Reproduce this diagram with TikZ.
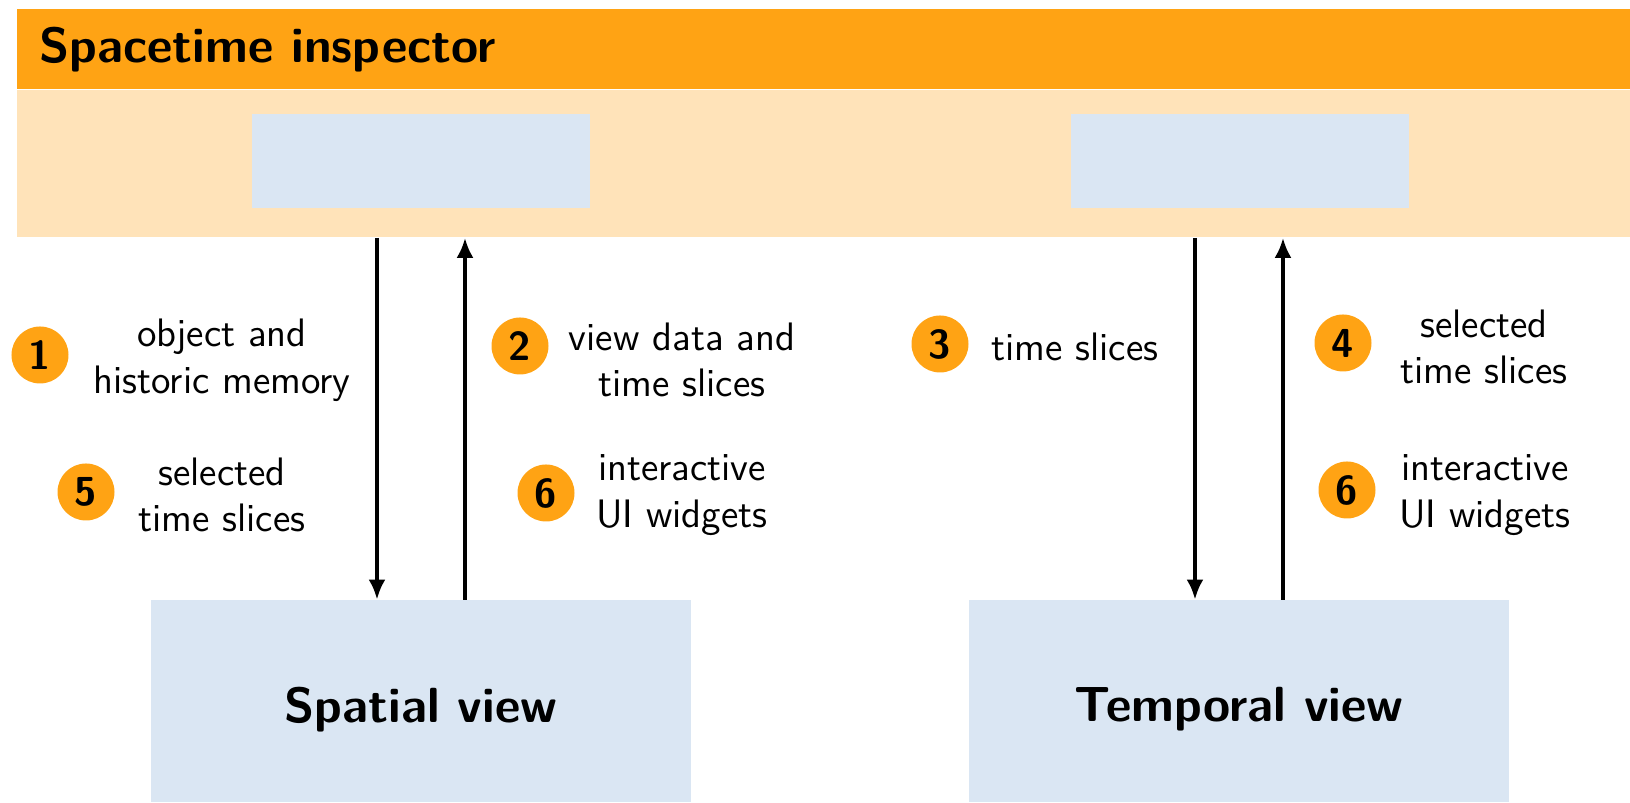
\documentclass[tikz,border=0pt]{standalone}
\usepackage{fontspec}
\usepackage{tikz}
\usetikzlibrary{arrows.meta}
\definecolor{inspOrange}{RGB}{255,163,20}
\definecolor{inspLight}{RGB}{255,227,185}
\definecolor{viewBlue}{RGB}{218,230,243}
\newcommand{\txtfont}{\sffamily\fontsize{11.3}{13.3}\selectfont}
\newcommand{\bigfont}{\sffamily\bfseries\fontsize{14.05}{16}\selectfont}

\begin{document}
\begin{tikzpicture}[>={Latex[length=2mm,width=1.7mm]},
   num/.style={circle,fill=inspOrange,minimum size=0.57cm,inner sep=0pt,font=\sffamily\bfseries\fontsize{11.5}{13}\selectfont},
   lbl/.style={align=center,inner sep=0pt,font=\txtfont},
   viewbox/.style={fill=viewBlue,minimum width=5.4cm,minimum height=2.02cm,inner sep=0pt},
   slot/.style={fill=viewBlue,minimum width=3.38cm,minimum height=0.94cm,inner sep=0pt},
   flow/.style={->,line width=1.1pt}]
   \useasboundingbox (0,0) rectangle (16.3,8.03);

   \node[fill=inspOrange,minimum width=16.14cm,minimum height=0.8cm,inner sep=0pt,anchor=north west] (header) at (0.16,7.95) {};
   \node[fill=inspLight,minimum width=16.14cm,minimum height=1.47cm,inner sep=0pt,anchor=north west] (panel) at (header.south west) {};
   \node[anchor=west,inner sep=0pt,font=\bigfont] (title) at (0.39,7.53) {Spacetime inspector};

   \node[slot] (sslot) at (4.21,6.42) {};
   \node[slot] (tslot) at (12.40,6.42) {};

   \node[viewbox,anchor=south] (spatial) at (4.21,0) {};
   \node[viewbox,anchor=south] (temporal) at (12.39,0) {};
   \node[font=\bigfont] (spatiallbl) at ([yshift=-0.8mm]spatial.center) {Spatial view};
   \node[font=\bigfont] (temporallbl) at ([yshift=-0.8mm]temporal.center) {Temporal view};

   \draw [flow] ([xshift=-4.4mm]spatial.north |- panel.south) -- ([xshift=-4.4mm]spatial.north);
   \draw [flow] ([xshift=4.4mm]spatial.north) -- ([xshift=4.4mm]spatial.north |- panel.south);
   \draw [flow] ([xshift=-4.4mm]temporal.north |- panel.south) -- ([xshift=-4.4mm]temporal.north);
   \draw [flow] ([xshift=4.4mm]temporal.north) -- ([xshift=4.4mm]temporal.north |- panel.south);

   \node[num] (n1) at (0.40,4.48) {1};
   \node[lbl] (t1) at (2.22,4.43) {object and\\historic memory};
   \node[num] (n2) at (5.20,4.57) {2};
   \node[lbl] (t2) at (6.82,4.43) {view data and\\time slices};
   \node[num] (n3) at (9.40,4.59) {3};
   \node[lbl] (t3) at (10.75,4.56) {time slices};
   \node[num] (n4) at (13.43,4.60) {4};
   \node[lbl] (t4) at (14.84,4.56) {selected\\time slices};

   \node[num] (n5) at (0.86,3.11) {5};
   \node[lbl] (t5) at (2.22,3.08) {selected\\time slices};
   \node[num] (n6) at (5.46,3.10) {6};
   \node[lbl] (t6) at (6.82,3.08) {interactive\\UI widgets};
   \node[num] (n6r) at (13.47,3.13) {6};
   \node[lbl] (t6r) at (14.85,3.08) {interactive\\UI widgets};
\end{tikzpicture}
\end{document}
